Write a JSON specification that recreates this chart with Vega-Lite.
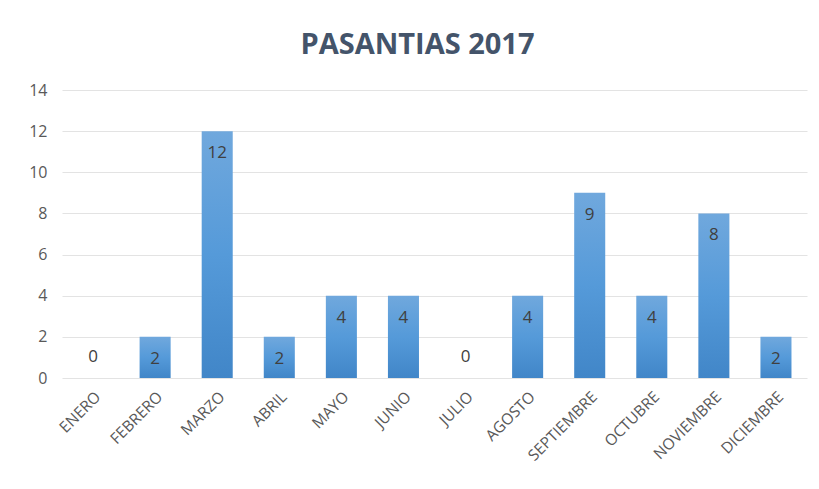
{
  "$schema": "https://vega.github.io/schema/vega-lite/v6.json",
  "autosize": {"type": "none"},
  "width": 745,
  "height": 288,
  "padding": {"left": 62, "top": 90, "right": 12, "bottom": 111},
  "background": "white",
  "title": {
    "text": "PASANTIAS 2017",
    "font": "Open Sans",
    "fontSize": 29,
    "fontWeight": "bold",
    "color": "#44546a",
    "anchor": "middle",
    "dx": -17,
    "offset": 22
  },
  "data": {
    "values": [
      {"mes": "ENERO", "valor": 0},
      {"mes": "FEBRERO", "valor": 2},
      {"mes": "MARZO", "valor": 12},
      {"mes": "ABRIL", "valor": 2},
      {"mes": "MAYO", "valor": 4},
      {"mes": "JUNIO", "valor": 4},
      {"mes": "JULIO", "valor": 0},
      {"mes": "AGOSTO", "valor": 4},
      {"mes": "SEPTIEMBRE", "valor": 9},
      {"mes": "OCTUBRE", "valor": 4},
      {"mes": "NOVIEMBRE", "valor": 8},
      {"mes": "DICIEMBRE", "valor": 2}
    ]
  },
  "encoding": {
    "x": {
      "field": "mes",
      "type": "nominal",
      "sort": null,
      "scale": {"paddingInner": 0.5, "paddingOuter": 0.25},
      "axis": {
        "title": null,
        "labelAngle": -45,
        "labelFont": "Open Sans",
        "labelFontSize": 15.5,
        "labelColor": "#595959",
        "ticks": false,
        "domain": false,
        "labelPadding": 11
      }
    },
    "y": {
      "field": "valor",
      "type": "quantitative",
      "scale": {"domain": [0, 14]},
      "axis": {
        "title": null,
        "values": [0, 2, 4, 6, 8, 10, 12, 14],
        "labelFont": "Open Sans",
        "labelFontSize": 16,
        "labelColor": "#595959",
        "ticks": false,
        "domain": false,
        "labelPadding": 15,
        "gridColor": "#e3e3e3",
        "gridWidth": 1
      }
    }
  },
  "layer": [
    {
      "mark": {
        "type": "bar",
        "color": {
          "gradient": "linear",
          "x1": 0, "y1": 0, "x2": 0, "y2": 1,
          "stops": [
            {"offset": 0, "color": "#70a8dd"},
            {"offset": 0.5, "color": "#559ad9"},
            {"offset": 1, "color": "#4186c8"}
          ]
        }
      }
    },
    {
      "transform": [{"filter": "datum.valor > 0"}],
      "mark": {"type": "text", "baseline": "middle", "dy": 22, "font": "Open Sans", "fontSize": 17, "color": "#404040"},
      "encoding": {"text": {"field": "valor", "type": "quantitative"}}
    },
    {
      "transform": [{"filter": "datum.valor == 0"}],
      "mark": {"type": "text", "baseline": "middle", "dy": -21, "font": "Open Sans", "fontSize": 17, "color": "#404040"},
      "encoding": {"text": {"field": "valor", "type": "quantitative"}}
    }
  ],
  "config": {"view": {"stroke": null}}
}
